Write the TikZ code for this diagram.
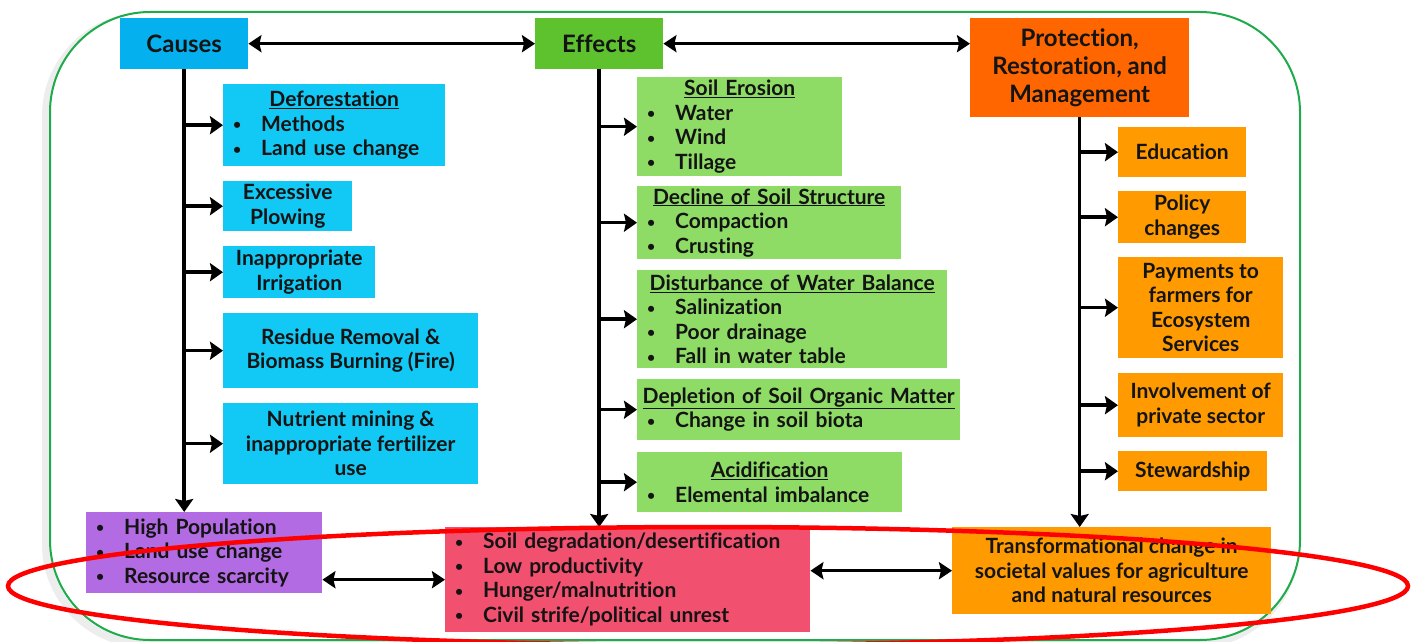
\documentclass[tikz,border=0pt]{standalone}
\usepackage{fontspec}
\setmainfont{Lato}[RawFeature={-liga;-dlig}]
\usetikzlibrary{arrows.meta,calc}
\definecolor{cHead}{HTML}{05B0EF}
\definecolor{cBr}{HTML}{12C8F4}
\definecolor{eHead}{HTML}{5DC22E}
\definecolor{eBr}{HTML}{8EDC66}
\definecolor{pHead}{HTML}{FF6600}
\definecolor{pBr}{HTML}{FF9B00}
\definecolor{purp}{HTML}{B26BE3}
\definecolor{redbox}{HTML}{F2506F}
\definecolor{frameG}{HTML}{1FAA4B}
\definecolor{ink}{HTML}{141414}
\newcommand\smallbul{\raisebox{1.5pt}{\fontsize{14}{14}\selectfont\textbullet}}
\newcommand\bl[1]{\makebox[\linewidth][l]{\hspace*{10pt}\makebox[28pt][l]{\smallbul}#1}}
\newcommand\hd[1]{\underline{#1}}
\begin{document}
\begin{tikzpicture}[x=1pt,y=1pt,
  every node/.style={font=\bfseries\fontsize{21}{24.5}\selectfont, text=ink},
  bx/.style={inner sep=0pt, anchor=north west, align=center},
  head/.style={bx, font=\bfseries\fontsize{24}{28}\selectfont},
  arr/.style={line width=3.5pt, -{Stealth[length=13pt,width=18pt,inset=2pt]}},
  dbl/.style={line width=3pt, {Stealth[length=13pt,width=17pt,inset=2pt]}-{Stealth[length=13pt,width=17pt,inset=2pt]}}]
\useasboundingbox (0,0) rectangle (1414,-642);
% frame with shadow
\draw[black, opacity=0.07, line width=8pt, rounded corners=100pt] (46,-16) rectangle (1296,-644);
\draw[frameG, line width=2pt, fill=white, rounded corners=100pt] (50,-12) rectangle (1300,-640);

% headers
\node[head, fill=cHead, minimum width=128pt, minimum height=51pt] (causes) at (120,-18) {Causes};
\node[head, fill=eHead, minimum width=128pt, minimum height=51pt] (effects) at (535,-18) {Effects};
\node[head, fill=pHead, minimum width=219pt, minimum height=99pt] (prot) at (970,-18) {Protection,\\Restoration, and\\Management};

% causes branches
\node[bx, fill=cBr, minimum width=222pt, minimum height=82pt, text width=222pt] (defo) at (223,-84) {\hd{Deforestation}\\\bl{Methods}\\\bl{Land use change}};
\node[bx, fill=cBr, minimum width=129pt, minimum height=50pt] (plow) at (223,-181) {Excessive\\Plowing};
\node[bx, fill=cBr, minimum width=152pt, minimum height=52pt] (irr) at (223,-246) {Inappropriate\\Irrigation};
\node[bx, fill=cBr, minimum width=255pt, minimum height=75pt] (resid) at (223,-313) {Residue Removal \&\\Biomass Burning (Fire)};
\node[bx, fill=cBr, minimum width=255pt, minimum height=81pt] (nutr) at (223,-403) {Nutrient mining \&\\inappropriate fertilizer\\use};
\node[bx, fill=purp, minimum width=236pt, minimum height=81pt, text width=236pt] (purpbox) at (86,-512) {\bl{High Population}\\\bl{Land use change}\\\bl{Resource scarcity}};

% effects branches
\node[bx, fill=eBr, minimum width=205pt, minimum height=99pt, text width=205pt] (eros) at (637,-77) {\hd{Soil Erosion}\\\bl{Water}\\\bl{Wind}\\\bl{Tillage}};
\node[bx, fill=eBr, minimum width=264pt, minimum height=73pt, text width=264pt] (struct) at (637,-186) {\hd{Decline of Soil Structure}\\\bl{Compaction}\\\bl{Crusting}};
\node[bx, fill=eBr, minimum width=310pt, minimum height=98pt, text width=310pt] (water) at (637,-270) {\hd{Disturbance of Water Balance}\\\bl{Salinization}\\\bl{Poor drainage}\\\bl{Fall in water table}};
\node[bx, fill=eBr, minimum width=323pt, minimum height=61pt, text width=323pt] (som) at (637,-379) {\hd{Depletion of Soil Organic Matter}\\\bl{Change in soil biota}};
\node[bx, fill=eBr, minimum width=265pt, minimum height=60pt, text width=265pt] (acid) at (637,-452) {\hd{Acidification}\\\bl{Elemental imbalance}};
\node[bx, fill=redbox, minimum width=365pt, minimum height=105pt, text width=365pt] (redb) at (445,-527) {\bl{Soil degradation/desertification}\\\bl{Low productivity}\\\bl{Hunger/malnutrition}\\\bl{Civil strife/political unrest}};

% protection branches
\node[bx, fill=pBr, minimum width=128pt, minimum height=50pt] (educ) at (1118,-127) {Education};
\node[bx, fill=pBr, minimum width=128pt, minimum height=52pt] (policy) at (1118,-191) {Policy\\changes};
\node[bx, fill=pBr, minimum width=165pt, minimum height=101pt] (pay) at (1118,-257) {Payments to\\farmers for\\Ecosystem\\Services};
\node[bx, fill=pBr, minimum width=165pt, minimum height=64pt] (invol) at (1118,-373) {Involvement of\\private sector};
\node[bx, fill=pBr, minimum width=149pt, minimum height=40pt] (stew) at (1118,-451) {Stewardship};
\node[bx, fill=pBr, minimum width=319pt, minimum height=87pt] (transf) at (952,-527) {Transformational change in\\societal values for agriculture\\and natural resources};

% top connectors
\draw[dbl] (causes.east) -- (effects.west);
\draw[dbl] (effects.east) -- (effects.east -| prot.west);

% trunks
\draw[arr] (causes.south) -- (causes.south |- purpbox.north);
\draw[arr] (effects.south) -- (effects.south |- redb.north);
\draw[arr] (prot.south) -- (prot.south |- transf.north);

% branches
\foreach \n in {defo,plow,irr,resid,nutr}
  \draw[arr] (causes.south |- \n.west) -- (\n.west);
\foreach \n in {eros,struct,water,som,acid}
  \draw[arr] (effects.south |- \n.west) -- (\n.west);
\foreach \n in {educ,policy,pay,invol,stew}
  \draw[arr] (prot.south |- \n.west) -- (\n.west);

% bottom connectors
\draw[dbl] (purpbox.east |- redb.west) -- (redb.west);
\draw[dbl] (redb.east |- transf.west) -- (transf.west);

% red ellipse
\draw[red, line width=4.5pt] (708,-586) ellipse [x radius=700pt, y radius=59pt];
\end{tikzpicture}
\end{document}
